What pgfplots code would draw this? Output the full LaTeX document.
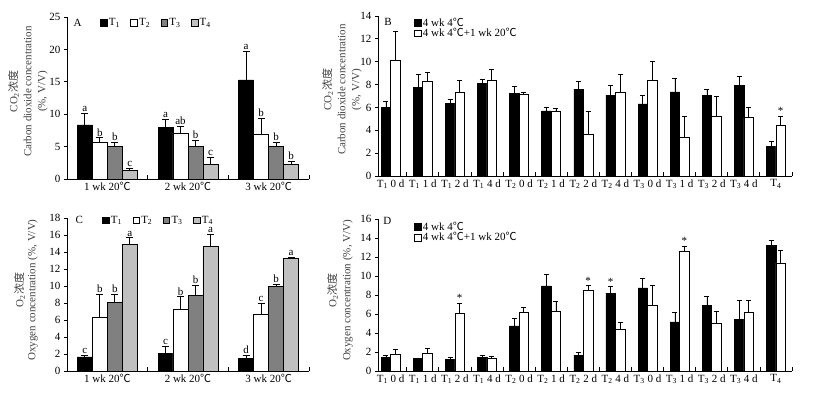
\documentclass[border=0pt]{standalone}
\usepackage{pgfplots}
\usepackage{pgfplotstable}
\pgfplotsset{compat=1.18}
\usetikzlibrary{calc}
\usepackage{fontspec}
\setmainfont{Liberation Serif}
\newfontfamily\cjk{Noto Sans CJK SC}
\newcommand{\degC}{{\cjk ℃}}
\newcommand{\fs}{\fontsize{11}{14}\selectfont}
\definecolor{gmid}{HTML}{808080}
\definecolor{glight}{HTML}{C0C0C0}

\pgfplotstableread{
x T1 e1 T2 e2 T3 e3 T4 e4
0 8.35 1.80 5.68 0.67 5.06 0.62 1.36 0.31
1 8.00 1.23 7.07 1.08 5.06 0.93 2.29 1.08
2 15.30 4.40 6.90 2.50 5.06 0.64 2.30 0.50
}\dataA
\pgfplotstableread{
x T1 e1 T2 e2 T3 e3 T4 e4
0 1.65 0.20 6.30 2.70 8.10 0.90 14.90 0.80
1 2.10 0.80 7.25 1.50 8.90 1.20 14.70 1.40
2 1.50 0.35 6.67 1.33 9.96 0.25 13.20 0.20
}\dataC
\pgfplotstableread{
x b eb w ew
0 6.00 0.56 10.10 2.60
1 7.78 1.12 8.30 0.80
2 6.38 0.32 7.35 1.02
3 8.13 0.32 8.37 0.96
4 7.26 0.58 7.14 0.18
5 5.69 0.31 5.69 0.23
6 7.60 0.68 3.64 2.02
7 7.08 0.85 7.35 1.55
8 6.30 0.75 8.37 1.66
9 7.35 1.19 3.41 1.81
10 7.08 0.50 5.22 1.75
11 7.96 0.76 5.13 0.87
12 2.62 0.41 4.46 0.76
}\dataB
\pgfplotstableread{
x b eb w ew
0 1.47 0.18 1.75 0.53
1 1.30 0.05 1.86 0.56
2 1.26 0.21 6.07 1.05
3 1.47 0.18 1.37 0.21
4 4.74 0.80 6.18 0.52
5 8.95 1.25 6.30 1.07
6 1.68 0.32 8.50 0.50
7 8.20 0.70 4.40 0.70
8 8.74 1.00 6.90 2.10
9 5.16 1.04 12.63 0.53
10 6.90 0.96 5.00 1.30
11 5.47 2.00 6.18 1.29
12 13.20 0.60 11.37 1.33
}\dataD

\pgfplotsset{
  panel/.style={
    scale only axis,
    anchor=south west,
    axis x line*=bottom,
    axis y line*=left,
    axis line style={line width=0.8pt},
    xtick align=inside,
    ytick align=outside,
    major tick length=3pt,
    minor tick length=4pt,
    every tick/.style={black, line width=0.8pt},
    major x tick style={draw=none},
    tick label style={font=\fs},
    /pgf/number format/assume math mode=true,
    ymin=0,
    clip=false,
    legend cell align=left,
    legend image code/.code={\draw[#1, line width=0.6pt] (0pt,-3.3pt) rectangle (6.6pt,3.3pt);},
    legend style={draw=none, fill=none, font=\fs, inner sep=0pt,
      nodes={inner xsep=1.5pt, inner ysep=0.5pt}},
    ylabel style={font=\fs, color=black!75, align=center, anchor=south, inner sep=1pt},
  },
  barA/.style={ybar, bar width=15pt, bar shift=0pt, draw=black, line width=0.6pt, fill=#1},
  barB/.style={ybar, bar width=9.5pt, bar shift=0pt, draw=black, line width=0.6pt, fill=#1},
  errb/.style={error bars/.cd, y dir=plus, y explicit,
    error bar style={line width=0.7pt, black},
    error mark options={rotate=90, black, mark size=3.5pt, line width=0.7pt}},
  errs/.style={error bars/.cd, y dir=plus, y explicit,
    error bar style={line width=0.7pt, black},
    error mark options={rotate=90, black, mark size=2.5pt, line width=0.7pt}},
  lett/.style={draw=none, mark=none, nodes near coords, point meta=explicit symbolic,
    every node near coord/.append style={font=\fs, anchor=south, inner sep=1.2pt, xshift=#1}},
}

\begin{document}
\begin{tikzpicture}
\path[use as bounding box] (0pt,0pt) rectangle (819pt,396pt);

% ---------------- Panel A ----------------
\begin{axis}[panel, at={(67pt,217pt)}, width=242pt, height=162pt,
  xmin=-0.5, xmax=2.5, ymax=25, ytick={0,5,...,25},
  xtick={0,1,2}, xticklabels={1 wk 20\degC, 2 wk 20\degC, 3 wk 20\degC},
  minor xtick={-0.5,0.5,1.5,2.5},
  ylabel={CO\textsubscript{2}{\cjk 浓度}\\Carbon dioxide concentration\\(\%, V/V)},
  ylabel style={at={($(rel axis cs:0,0.54)+(-18pt,0pt)$)}},
  legend columns=4,
  legend style={at={(rel axis cs:0.136,0.965)}, anchor=west,
    /tikz/every even column/.append style={column sep=9pt}},
]
\addplot[barA=black, errb] table[x expr=\thisrow{x}-0.2789, y=T1, y error=e1] {\dataA};
\addplot[barA=white, errb] table[x expr=\thisrow{x}-0.0930, y=T2, y error=e2] {\dataA};
\addplot[barA=gmid, errb] table[x expr=\thisrow{x}+0.0930, y=T3, y error=e3] {\dataA};
\addplot[barA=glight, errb] table[x expr=\thisrow{x}+0.2789, y=T4, y error=e4] {\dataA};
\legend{T\textsubscript{1}, T\textsubscript{2}, T\textsubscript{3}, T\textsubscript{4}}
\addplot[lett=-22.5pt] coordinates {(0,10.15)[a] (1,9.23)[a] (2,19.7)[a]};
\addplot[lett=-7.5pt] coordinates {(0,6.35)[b] (1,8.15)[ab] (2,9.4)[b]};
\addplot[lett=7.5pt] coordinates {(0,5.68)[b] (1,5.99)[b] (2,5.7)[b]};
\addplot[lett=22.5pt] coordinates {(0,1.67)[c] (1,3.37)[c] (2,2.8)[b]};
\node[font=\fs] at (rel axis cs:0.044,0.963) {A};
\end{axis}

% ---------------- Panel B ----------------
\begin{axis}[panel, at={(378pt,220pt)}, width=414pt, height=160pt,
  xmin=-0.394, xmax=12.5, ymax=14, ytick={0,2,...,14},
  xtick={0,...,12},
  xticklabels={T\textsubscript{1} 0 d, T\textsubscript{1} 1 d, T\textsubscript{1} 2 d, T\textsubscript{1} 4 d,
    T\textsubscript{2} 0 d, T\textsubscript{2} 1 d, T\textsubscript{2} 2 d, T\textsubscript{2} 4 d,
    T\textsubscript{3} 0 d, T\textsubscript{3} 1 d, T\textsubscript{3} 2 d, T\textsubscript{3} 4 d, T\textsubscript{4}},
  minor xtick={0.5,1.5,...,12.5},
  ylabel={CO\textsubscript{2}{\cjk 浓度}\\Carbon dioxide concentration\\(\%, V/V)},
  ylabel style={at={($(rel axis cs:0,0.54)+(-15pt,0pt)$)}},
  legend columns=1,
  legend style={at={(rel axis cs:0.087,0.994)}, anchor=north west},
]
\addplot[barB=black, errs] table[x expr=\thisrow{x}-0.1479, y=b, y error=eb] {\dataB};
\addplot[barB=white, errs] table[x expr=\thisrow{x}+0.1479, y=w, y error=ew] {\dataB};
\legend{4 wk 4\degC, 4 wk 4\degC+1 wk 20\degC}
\addplot[lett=4.75pt] coordinates {(12,5.22)[*]};
\node[font=\fs] at (rel axis cs:0.024,0.96) {B};
\end{axis}

% ---------------- Panel C ----------------
\begin{axis}[panel, at={(67pt,25pt)}, width=242pt, height=153pt,
  xmin=-0.5, xmax=2.5, ymax=18, ytick={0,2,...,18},
  xtick={0,1,2}, xticklabels={1 wk 20\degC, 2 wk 20\degC, 3 wk 20\degC},
  minor xtick={-0.5,0.5,1.5,2.5},
  ylabel={O\textsubscript{2}{\cjk 浓度}\\[-2pt]Oxygen concentration (\%, V/V)},
  ylabel style={at={($(rel axis cs:0,0.53)+(-28pt,0pt)$)}},
  legend columns=4,
  legend style={at={(rel axis cs:0.145,0.985)}, anchor=west,
    /tikz/every even column/.append style={column sep=9pt}},
]
\addplot[barA=black, errb] table[x expr=\thisrow{x}-0.2789, y=T1, y error=e1] {\dataC};
\addplot[barA=white, errb] table[x expr=\thisrow{x}-0.0930, y=T2, y error=e2] {\dataC};
\addplot[barA=gmid, errb] table[x expr=\thisrow{x}+0.0930, y=T3, y error=e3] {\dataC};
\addplot[barA=glight, errb] table[x expr=\thisrow{x}+0.2789, y=T4, y error=e4] {\dataC};
\legend{T\textsubscript{1}, T\textsubscript{2}, T\textsubscript{3}, T\textsubscript{4}}
\addplot[lett=-22.5pt] coordinates {(0,1.85)[c] (1,2.9)[c] (2,1.85)[d]};
\addplot[lett=-7.5pt] coordinates {(0,9.0)[b] (1,8.75)[b] (2,8.0)[c]};
\addplot[lett=7.5pt] coordinates {(0,9.0)[b] (1,10.1)[b] (2,10.2)[b]};
\addplot[lett=22.5pt] coordinates {(0,15.7)[a] (1,16.1)[a] (2,13.4)[a]};
\node[font=\fs] at (rel axis cs:0.051,0.987) {C};
\end{axis}

% ---------------- Panel D ----------------
\begin{axis}[panel, at={(378pt,25pt)}, width=414pt, height=152pt,
  xmin=-0.394, xmax=12.5, ymax=16, ytick={0,2,...,16},
  xtick={0,...,12},
  xticklabels={T\textsubscript{1} 0 d, T\textsubscript{1} 1 d, T\textsubscript{1} 2 d, T\textsubscript{1} 4 d,
    T\textsubscript{2} 0 d, T\textsubscript{2} 1 d, T\textsubscript{2} 2 d, T\textsubscript{2} 4 d,
    T\textsubscript{3} 0 d, T\textsubscript{3} 1 d, T\textsubscript{3} 2 d, T\textsubscript{3} 4 d, T\textsubscript{4}},
  minor xtick={0.5,1.5,...,12.5},
  ylabel={O\textsubscript{2}{\cjk 浓度}\\Oxygen concentration (\%, V/V)},
  ylabel style={at={($(rel axis cs:0,0.53)+(-24pt,0pt)$)}},
  legend columns=1,
  legend style={at={(rel axis cs:0.087,0.987)}, anchor=north west},
]
\addplot[barB=black, errs] table[x expr=\thisrow{x}-0.1479, y=b, y error=eb] {\dataD};
\addplot[barB=white, errs] table[x expr=\thisrow{x}+0.1479, y=w, y error=ew] {\dataD};
\legend{4 wk 4\degC, 4 wk 4\degC+1 wk 20\degC}
\addplot[lett=4.75pt] coordinates {(2,7.12)[*] (6,9.0)[*] (9,13.16)[*]};
\addplot[lett=-4.75pt] coordinates {(7,8.9)[*]};
\node[font=\fs] at (rel axis cs:0.0225,0.989) {D};
\end{axis}
\end{tikzpicture}
\end{document}
